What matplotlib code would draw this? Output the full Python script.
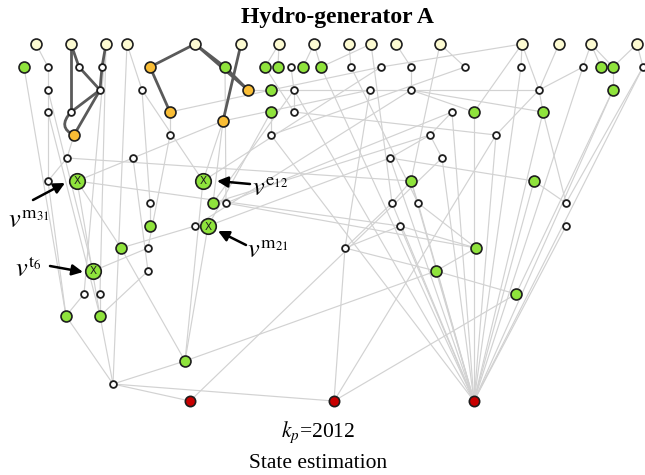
import matplotlib
matplotlib.use("Agg")
import matplotlib.pyplot as plt
from matplotlib.path import Path
from matplotlib.patches import PathPatch

plt.rcParams['mathtext.fontset'] = 'stix'

# ---------------- data: node layout (pixel-like layout coordinates) ----------------
pale_nodes = [("p36", 36, 44), ("p71", 71, 44), ("p106", 106, 44), ("p127", 127, 44),
              ("p195", 195, 44), ("p240", 241, 44), ("p278", 279, 44), ("p314", 314, 44),
              ("p349", 349, 44), ("p371", 371, 44), ("p396", 396, 44), ("p440", 440, 44),
              ("p522", 522, 44), ("p559", 559, 44), ("p591", 591, 44), ("p637", 637, 44)]

green_nodes = [("g24_67", 24, 67), ("g225_67", 225, 67), ("g265_67", 265, 67), ("g278_67", 278, 67),
               ("g303_67", 303, 67), ("g320_67", 321, 67), ("g601_67", 601, 67), ("g613_67", 613, 67),
               ("g271_90", 271, 90), ("g613_90", 613, 90), ("g271_112", 271, 112), ("g474_112", 474, 112),
               ("g543_112", 543, 112), ("g411_181", 411, 181), ("g534_181", 534, 181),
               ("g213_203", 213, 203), ("g150_226", 150, 226), ("g121_248", 121, 248),
               ("g476_248", 476, 248), ("g436_271", 436, 271), ("g516_294", 516, 294),
               ("g66_316", 66, 316), ("g100_316", 100, 316), ("g185_361", 185, 361)]

orange_nodes = [("o150_67", 150, 67), ("o248_90", 248, 90), ("o170_112", 170, 112),
                ("o223_121", 223, 121), ("o74_135", 74, 135)]

white_nodes = [("w48_67", 48, 67), ("w79_67", 79, 67), ("w102_67", 102, 67), ("w291_67", 291, 67),
               ("w351_67", 351, 67), ("w381_67", 381, 67), ("w411_67", 411, 67), ("w465_67", 465, 67),
               ("w521_67", 521, 67), ("w583_67", 583, 67), ("w643_67", 643, 67),
               ("w48_90", 48, 90), ("w100_90", 100, 90), ("w142_90", 142, 90), ("w294_90", 294, 90),
               ("w370_90", 370, 90), ("w411_90", 411, 90), ("w539_90", 539, 90),
               ("w48_112", 48, 112), ("w71_112", 71, 112), ("w294_112", 294, 112), ("w452_112", 452, 112),
               ("w170_135", 170, 135), ("w271_135", 271, 135), ("w430_135", 430, 135), ("w496_135", 496, 135),
               ("w67_158", 67, 158), ("w133_158", 133, 158), ("w390_158", 390, 158), ("w442_158", 442, 158),
               ("w48_181", 48, 181), ("w150_203", 150, 203), ("w226_203", 226, 203), ("w392_203", 392, 203),
               ("w418_203", 418, 203), ("w566_203", 566, 203), ("w195_226", 195, 226), ("w400_226", 400, 226),
               ("w566_226", 566, 226), ("w345_248", 345, 248), ("w148_248", 148, 248), ("w148_271", 148, 271),
               ("w84_294", 84, 294), ("w100_294", 100, 294), ("w113_384", 113, 384)]

marked_nodes = [("x77_181", 77, 181), ("x203_181", 203, 181), ("x208_226", 208, 226), ("x93_271", 93, 271)]

red_nodes = [("r190", 190, 401), ("r334", 334, 401), ("r474", 474, 401)]

dark_edges = [("p71", "w71_112"), ("p71", "w79_67"), ("w79_67", "w100_90"), ("p106", "w102_67"),
              ("w102_67", "w100_90"), ("w100_90", "w71_112"), ("w100_90", "o74_135"),
              ("p195", "o150_67"), ("o150_67", "o170_112"), ("p195", "g225_67"),
              ("g225_67", "o248_90"), ("p195", "o248_90"), ("p240", "o223_121")]

curved_dark_edges = [("w71_112", "o74_135")]

light_edges = [
    # left part
    ("p36", "w48_67"), ("g24_67", "g66_316"), ("w48_67", "w48_181"), ("w48_90", "x93_271"),
    ("w48_112", "g100_316"), ("p106", "w84_294"), ("p106", "w100_294"), ("o74_135", "w67_158"),
    ("w67_158", "w48_181"), ("w67_158", "g411_181"), ("x77_181", "w133_158"), ("x77_181", "w400_226"),
    ("x77_181", "g121_248"), ("x77_181", "g100_316"), ("g121_248", "w195_226"), ("x93_271", "w148_248"),
    ("w84_294", "g66_316"), ("w100_294", "g100_316"), ("g100_316", "w148_271"), ("g100_316", "w113_384"),
    ("g66_316", "w113_384"), ("w113_384", "g185_361"), ("w113_384", "r190"), ("w113_384", "r334"),
    ("w113_384", "p127"), ("w48_181", "g66_316"), ("g185_361", "x203_181"), ("g185_361", "x208_226"),
    ("g121_248", "g185_361"), ("g185_361", "g436_271"), ("r190", "w442_158"),
    # middle part
    ("w150_203", "g150_226"), ("w142_90", "w150_203"), ("w133_158", "w148_271"), ("o223_121", "w133_158"),
    ("o223_121", "x203_181"), ("o223_121", "g213_203"), ("o170_112", "w170_135"), ("w170_135", "w148_248"),
    ("p278", "g265_67"), ("p278", "g278_67"), ("p314", "g303_67"), ("p314", "g320_67"),
    ("g271_112", "w271_135"), ("w142_90", "x203_181"), ("o223_121", "w370_90"), ("o170_112", "g271_90"),
    ("x203_181", "w381_67"), ("g213_203", "w430_135"), ("w226_203", "w452_112"), ("x208_226", "w390_158"),
    ("w195_226", "w411_90"), ("w226_203", "g476_248"), ("x208_226", "g271_112"), ("g213_203", "w294_90"),
    ("o248_90", "w370_90"), ("p127", "w142_90"), ("w271_135", "r474"), ("g265_67", "w294_112"),
    ("w291_67", "w294_90"), ("w294_90", "w294_112"), ("g225_67", "w226_203"),
    # right part
    ("p349", "w351_67"), ("p371", "g320_67"), ("p396", "w411_67"), ("p440", "w465_67"),
    ("p440", "g411_181"), ("p522", "w521_67"), ("p522", "g474_112"), ("p522", "w381_67"),
    ("p522", "w539_90"), ("p559", "w539_90"), ("p591", "w583_67"), ("p591", "g601_67"),
    ("p591", "g613_67"), ("p637", "g613_67"), ("p637", "w643_67"), ("w583_67", "w539_90"),
    ("w539_90", "g543_112"), ("g543_112", "w566_203"), ("g534_181", "w566_203"), ("w411_67", "w411_90"),
    ("w411_90", "g474_112"), ("w411_90", "g543_112"), ("w370_90", "w539_90"), ("w370_90", "w345_248"),
    ("w452_112", "w430_135"), ("w430_135", "w390_158"), ("w430_135", "w442_158"), ("w294_112", "w496_135"),
    ("w390_158", "g534_181"), ("g411_181", "w392_203"), ("g411_181", "w418_203"), ("w418_203", "g476_248"),
    ("w400_226", "g476_248"), ("w345_248", "g436_271"), ("g436_271", "g476_248"), ("g436_271", "g516_294"),
    ("w345_248", "w392_203"), ("w345_248", "w400_226"), ("w351_67", "w418_203"), ("p371", "w392_203"),
    ("g271_90", "w381_67"), ("w465_67", "w271_135"), ("g613_67", "g613_90"),
    ("w539_90", "w496_135"), ("g613_90", "g516_294"), ("w566_203", "w643_67"),
    # edges into the estimation nodes
    ("w390_158", "r474"), ("w392_203", "r474"), ("w400_226", "r474"), ("g436_271", "r474"),
    ("w442_158", "r474"), ("g411_181", "r474"), ("w452_112", "r474"), ("w418_203", "r474"),
    ("g474_112", "r474"), ("w496_135", "r474"), ("g534_181", "r474"), ("w566_226", "r474"),
    ("g543_112", "r474"), ("w583_67", "r474"), ("g613_90", "r474"), ("w643_67", "r474"),
    ("w521_67", "r474"), ("g320_67", "r474"), ("w294_90", "r474"),
    ("r334", "w345_248"), ("r334", "w496_135"), ("r334", "g516_294"),
]

annotations = [(r"$v^{\mathrm{m}_{31}}$", (8, 228), (33, 200), (65, 183)),
               (r"$v^{\mathrm{e}_{12}}$", (252, 195), (250, 184), (217, 181)),
               (r"$v^{\mathrm{m}_{21}}$", (247, 258), (246, 245), (218, 231)),
               (r"$v^{\mathrm{t}_{6}}$", (15, 277), (50, 266), (83, 272))]

title_text = "Hydro-generator A"
kp_value = 2012
subtitle_text = "State estimation"

# ---------------- drawing ----------------
fig = plt.figure(figsize=(6.45, 4.75), dpi=100)
ax = fig.add_axes([0, 0, 1, 1])
ax.set_xlim(0, 645)
ax.set_ylim(475, 0)
ax.axis("off")

pos = {}
for group in (pale_nodes, green_nodes, orange_nodes, white_nodes, marked_nodes, red_nodes):
    for name, x, y in group:
        pos[name] = (x, y)

for a, b in light_edges:
    (x1, y1), (x2, y2) = pos[a], pos[b]
    ax.plot([x1, x2], [y1, y2], color="#d2d2d2", lw=0.85, zorder=1, solid_capstyle="round")

for a, b in dark_edges:
    (x1, y1), (x2, y2) = pos[a], pos[b]
    ax.plot([x1, x2], [y1, y2], color="#5a5a5a", lw=2.0, zorder=2, solid_capstyle="round")

for a, b in curved_dark_edges:
    (x1, y1), (x2, y2) = pos[a], pos[b]
    ctrl = (min(x1, x2) - 14, (y1 + y2) / 2 + 4)
    path = Path([(x1, y1), ctrl, (x2, y2)], [Path.MOVETO, Path.CURVE3, Path.CURVE3])
    ax.add_patch(PathPatch(path, fill=False, edgecolor="#5a5a5a", lw=2.0, zorder=2))

edge_c = "#1e1e1e"
def draw(group, face, size, lw=1.2):
    xs = [p[1] for p in group]
    ys = [p[2] for p in group]
    ax.scatter(xs, ys, s=size, c=face, edgecolors=edge_c, linewidths=lw, zorder=4)

draw(pale_nodes, "#fdfbd2", 62)
draw(green_nodes, "#8fe33c", 62)
draw(orange_nodes, "#f9bd35", 62)
draw(white_nodes, "#ffffff", 24, lw=1.3)
draw(red_nodes, "#c80000", 55)
draw(marked_nodes, "#8fe33c", 125)
for name, x, y in marked_nodes:
    ax.text(x, y + 0.5, "X", ha="center", va="center", fontsize=7.5,
            color="#1e1e1e", family="DejaVu Sans", zorder=5)

for label, tpos, tail, head in annotations:
    ax.text(tpos[0], tpos[1], label, fontsize=19, ha="left", va="baseline", zorder=6)
    ax.annotate("", xy=head, xytext=tail,
                arrowprops=dict(arrowstyle="-|>", color="black", lw=1.8,
                                mutation_scale=16, shrinkA=0, shrinkB=0), zorder=6)

ax.text(337, 23, title_text, ha="center", va="baseline", fontsize=17,
        fontweight="bold", family="Liberation Serif")
ax.text(318, 437, r"$k_p$=" + str(kp_value), ha="center", va="baseline", fontsize=15.5,
        family="Liberation Serif")
ax.text(318, 468, subtitle_text, ha="center", va="baseline", fontsize=15.5,
        family="Liberation Serif")

fig.savefig("out.png", dpi=100)
